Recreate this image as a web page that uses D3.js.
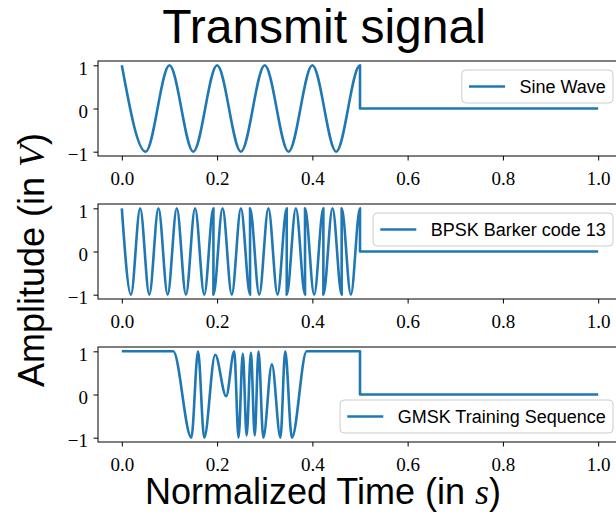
<!DOCTYPE html>
<html>
<head>
<meta charset="utf-8">
<script src="https://cdn.jsdelivr.net/npm/d3@7"></script>
<style>
  body { margin: 0; background: #ffffff; }
  svg { display: block; }
  .tick text { font-family: "Liberation Serif", "Times New Roman", serif; }
</style>
</head>
<body>
<svg id="chart" width="616" height="517"></svg>
<script>
// Sine wave burst: successive peaks / troughs, then switched off at 0.5 s
const sineT = [0, 0.05, 0.1, 0.15, 0.2, 0.25, 0.3, 0.35, 0.4, 0.45, 0.5, 0.5, 1.0];
const sineV = [1, -1, 1, -1, 1, -1, 1, -1, 1, -1, 1, 0, 0];

// BPSK with Barker 13 (+ + + + + - - + + - + - +): one carrier cycle per chip,
// phase reversals show as vertical jumps at chip boundaries
const bpskT = [0, 0.0192, 0.0385, 0.0577, 0.0769, 0.0962, 0.1154, 0.1346, 0.1538, 0.1731,
               0.1923, 0.1923, 0.2115, 0.2308, 0.25, 0.2692, 0.2692, 0.2885, 0.3077, 0.3269,
               0.3462, 0.3462, 0.3654, 0.3846, 0.3846, 0.4038, 0.4231, 0.4231, 0.4423, 0.4615,
               0.4615, 0.4808, 0.5, 0.5, 1.0];
const bpskV = [1, -1, 1, -1, 1, -1, 1, -1, 1, -1,
               1, -1, 1, -1, 1, -1, 1, -1, 1, -1,
               1, -1, 1, -1, 1, -1, 1, -1, 1, -1,
               1, -1, 1, 0, 0];

// GMSK training sequence: turning points of the waveform
const gmskT = [0, 0.108, 0.146, 0.160, 0.173, 0.196, 0.219, 0.236, 0.245, 0.254, 0.262,
               0.271, 0.279, 0.287, 0.297, 0.315, 0.333, 0.343, 0.357, 0.388, 0.5, 0.5, 1.0];
const gmskV = [1, 1, -1, 1, -1, 0.92, -0.04, 1, -1, 0.95, -0.95,
               0.97, -0.95, 1, -1, 0.7, -1, 1, -1, 1, 1, 0, 0];

const seriesNames = ["Sine Wave", "BPSK Barker code 13", "GMSK Training Sequence"];
const legendCorners = ["upper right", "upper right", "lower right"];
const xTicks = [0.0, 0.2, 0.4, 0.6, 0.8, 1.0];
const yTicks = [-1, 0, 1];

const series = [
  { t: sineT, v: sineV },
  { t: bpskT, v: bpskV },
  { t: gmskT, v: gmskV }
];

const svg = d3.select("#chart");
const sans = "Liberation Sans, Arial, Helvetica, sans-serif";
const serif = "Liberation Serif, Times New Roman, serif";
const blue = "#1f77b4";

const left = 98, right = 622;
const panelTops = [61, 204, 347];
const panelH = 95;

const x = d3.scaleLinear().domain([-0.05, 1.05]).range([left, right]);

series.forEach((s, i) => {
  const top = panelTops[i];
  const bottom = top + panelH;
  const y = d3.scaleLinear().domain([-1.1, 1.1]).range([bottom, top]);
  const g = svg.append("g");

  // signal trace
  const pts = s.t.map((t, k) => [t, s.v[k]]);
  const line = d3.line()
    .x(d => x(d[0]))
    .y(d => y(d[1]))
    .curve(d3.curveMonotoneX);
  g.append("path")
    .attr("d", line(pts))
    .attr("fill", "none")
    .attr("stroke", blue)
    .attr("stroke-width", 2.6)
    .attr("stroke-linejoin", "round");

  // x axis
  const xa = g.append("g")
    .attr("transform", `translate(0,${bottom})`)
    .call(d3.axisBottom(x).tickValues(xTicks).tickFormat(d3.format(".1f")).tickSize(4.5).tickSizeOuter(0))
    .attr("font-family", serif).attr("font-size", 19);
  xa.select(".domain").remove();
  xa.selectAll(".tick line").attr("stroke", "#000").attr("stroke-width", 1);
  xa.selectAll(".tick text")
    .attr("dy", null).attr("y", 29)
    .attr("fill", "#000")
    .attr("font-family", serif).attr("font-size", 19);

  // y axis
  const ya = g.append("g")
    .attr("transform", `translate(${left},0)`)
    .call(d3.axisLeft(y).tickValues(yTicks)
      .tickFormat(d => d < 0 ? "\u2212" + Math.abs(d) : String(d))
      .tickSize(4.5).tickSizeOuter(0))
    .attr("font-family", serif).attr("font-size", 19);
  ya.select(".domain").remove();
  ya.selectAll(".tick line").attr("stroke", "#000").attr("stroke-width", 1);
  ya.selectAll(".tick text")
    .attr("dy", null).attr("y", 2.5).attr("x", -10)
    .attr("dominant-baseline", "central")
    .attr("fill", "#000")
    .attr("font-family", serif).attr("font-size", 19);

  // frame
  g.append("rect")
    .attr("x", left).attr("y", top)
    .attr("width", right - left).attr("height", panelH)
    .attr("fill", "none").attr("stroke", "#000").attr("stroke-width", 1);

  // legend
  const fs = 18;
  const pad = 0.4 * fs, handle = 2 * fs, gap = 0.8 * fs;
  const boxH = 33;
  const lg = g.append("g");
  const txt = lg.append("text")
    .text(seriesNames[i])
    .attr("font-family", sans).attr("font-size", fs)
    .attr("fill", "#000");
  const tw = txt.node().getComputedTextLength();
  const boxW = pad + handle + gap + tw + pad;
  const boxR = right - 0.5 * fs;
  const boxX = boxR - boxW;
  const boxY = legendCorners[i] === "upper right" ? top + 0.5 * fs : bottom - 0.5 * fs - boxH;
  const cy = boxY + boxH / 2;
  lg.insert("rect", "text")
    .attr("x", boxX).attr("y", boxY)
    .attr("width", boxW).attr("height", boxH)
    .attr("rx", 4).attr("ry", 4)
    .attr("fill", "#fff").attr("fill-opacity", 0.8)
    .attr("stroke", "#cccccc").attr("stroke-width", 1);
  lg.insert("line", "text")
    .attr("x1", boxX + pad).attr("x2", boxX + pad + handle)
    .attr("y1", cy).attr("y2", cy)
    .attr("stroke", blue).attr("stroke-width", 2.6);
  txt.attr("x", boxX + pad + handle + gap).attr("y", cy + 6.5);
});

// titles
svg.append("text")
  .attr("x", 324).attr("y", 43)
  .attr("text-anchor", "middle")
  .attr("font-family", sans).attr("font-size", 48)
  .text("Transmit signal");

const xl = svg.append("text")
  .attr("x", 323).attr("y", 504)
  .attr("text-anchor", "middle")
  .attr("font-family", sans).attr("font-size", 36);
xl.append("tspan").text("Normalized Time (in ");
xl.append("tspan").attr("font-family", serif).attr("font-style", "italic").text("s");
xl.append("tspan").text(")");

const yl = svg.append("text")
  .attr("transform", "translate(44,260) rotate(-90)")
  .attr("text-anchor", "middle")
  .attr("font-family", sans).attr("font-size", 36);
yl.append("tspan").text("Amplitude (in ");
yl.append("tspan").attr("font-family", serif).attr("font-style", "italic").text("V");
yl.append("tspan").text(")");
</script>
</body>
</html>
